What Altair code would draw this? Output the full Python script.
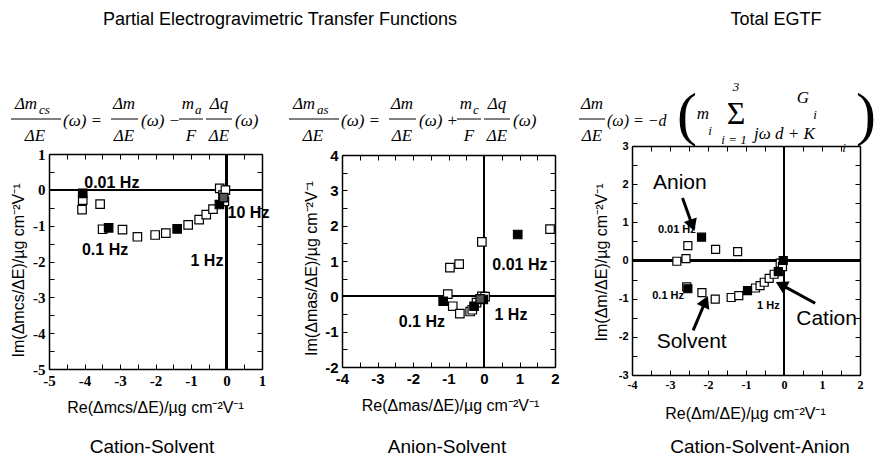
import altair as alt
import pandas as pd

W, H = 877, 464

# ---------------- data ----------------
# Cation-solvent partial EGTF
cs_re = [-4.05, -4.05, -4.07, -3.56, -3.49, -3.32, -2.93, -2.51, -2.01, -1.71,
         -1.39, -1.08, -0.77, -0.57, -0.38, -0.20, -0.19, -0.10, -0.08, -0.06, -0.03]
cs_im = [-0.10, -0.29, -0.55, -0.40, -1.10, -1.06, -1.11, -1.31, -1.26, -1.21,
         -1.09, -0.98, -0.83, -0.69, -0.54, -0.41, 0.04, -0.15, -0.22, -0.32, -0.01]
cs_kind = [1, 0, 0, 0, 0, 1, 0, 0, 0, 0, 1, 0, 0, 0, 0, 1, 0, 0, 2, 0, 0]

# Anion-solvent partial EGTF
as_re = [1.86, 0.95, -0.06, -0.70, -0.96, -1.02, -1.15, -0.88, -0.68, -0.39,
         -0.33, -0.28, -0.21, -0.11, -0.02, -0.06, 0.03]
as_im = [1.90, 1.75, 1.54, 0.91, 0.81, 0.06, -0.14, -0.28, -0.49, -0.43,
         -0.38, -0.28, -0.18, -0.07, -0.09, 0.00, -0.01]
as_kind = [0, 1, 0, 0, 0, 0, 1, 0, 0, 0, 0, 1, 0, 2, 1, 0, 0]

# Total EGTF
tot_re = [-2.17, -2.53, -1.80, -1.22, -2.58, -2.82, -2.56, -2.53, -2.16, -1.81, -1.39,
          -1.19, -0.96, -0.75, -0.63, -0.52, -0.39, -0.26, -0.15, -0.10, -0.04, -0.02]
tot_im = [0.61, 0.39, 0.29, 0.23, 0.05, -0.02, -0.69, -0.74, -0.84, -1.01, -0.97,
          -0.92, -0.79, -0.72, -0.66, -0.57, -0.47, -0.36, -0.29, -0.07, -0.16, 0.00]
tot_kind = [1, 0, 0, 0, 0, 0, 0, 1, 0, 0, 0, 0, 1, 0, 0, 0, 0, 0, 1, 0, 0, 1]

# frequency annotations
cs_note_txt = ["0.01 Hz", "0.1 Hz", "1 Hz", "10 Hz"]
cs_note_x = [-3.23, -3.42, -0.55, 0.62]
cs_note_y = [0.20, -1.69, -1.99, -0.64]

as_note_txt = ["0.01 Hz", "0.1 Hz", "1 Hz"]
as_note_x = [1.01, -1.75, 0.76]
as_note_y = [0.90, -0.73, -0.52]

tot_note_txt = ["0.01 Hz", "0.1 Hz", "1 Hz"]
tot_note_x = [-2.82, -3.05, -0.41]
tot_note_y = [0.80, -0.93, -1.19]

tot_name_txt = ["Anion", "Solvent", "Cation"]
tot_name_x = [-2.74, -2.43, 1.12]
tot_name_y = [2.03, -2.14, -1.52]

arrow_x = [-2.67, -2.39, 0.82]
arrow_y = [1.64, -1.83, -1.12]
arrow_x2 = [-2.43, -2.09, -0.03]
arrow_y2 = [0.97, -1.12, -0.66]
arrow_angle = [160, 24, 298]

FILL = {0: "white", 1: "black", 2: "#555555"}

INT_LABEL = "datum.value % 1 == 0 ? '' + datum.value : ''"


def axis_common(lab_font, lab_size):
    return dict(
        grid=False, domainColor="black", domainWidth=1.5, tickColor="black",
        tickWidth=1, tickSize=alt.ExprRef(expr="-5"), labelPadding=9,
        labelFont=lab_font, labelFontSize=lab_size, labelFontWeight="bold",
        labelColor="black", labelFlush=False, labelOverlap=False,
        labelExpr=INT_LABEL,
    )


def panel(re, im, kind, xdom, ydom, xr, yr, xlab, ylab, xtitle, ytitle,
          xt_x, yt_y, sq, notes, note_size):
    xs = alt.Scale(domain=xdom, range=xr, nice=False, zero=False)
    ys = alt.Scale(domain=ydom, range=yr, nice=False, zero=False)
    xticks = [xdom[0] + 0.5 * i for i in range(int(round((xdom[1] - xdom[0]) * 2)) + 1)]
    yticks = [ydom[0] + 0.5 * i for i in range(int(round((ydom[1] - ydom[0]) * 2)) + 1)]

    ax_b = alt.Axis(orient="bottom", offset=yr[0] - H, values=xticks,
                    title=xtitle, titleX=xt_x, titleY=38, titleFont="Liberation Sans",
                    titleFontSize=16, titleFontWeight="normal", titleColor="black",
                    titleBaseline="middle", titleAlign="center",
                    **axis_common(*xlab))
    ax_l = alt.Axis(orient="left", offset=-xr[0], values=yticks,
                    title=ytitle, titleX=-31, titleY=yt_y, titleAngle=270,
                    titleFont="Liberation Sans", titleFontSize=16,
                    titleFontWeight="normal", titleColor="black",
                    titleBaseline="middle", titleAlign="center",
                    **axis_common(*ylab))
    ax_t = alt.Axis(orient="top", offset=-yr[1], values=xticks, labels=False,
                    title=None, grid=False, domainColor="black", domainWidth=1.5,
                    tickColor="black", tickWidth=1, tickSize=alt.ExprRef(expr="-5"))
    ax_r = alt.Axis(orient="right", offset=xr[1] - W, values=yticks, labels=False,
                    title=None, grid=False, domainColor="black", domainWidth=1.5,
                    tickColor="black", tickWidth=1, tickSize=alt.ExprRef(expr="-5"))

    df = pd.DataFrame({"re": re, "im": im, "kind": kind})
    df["fill"] = df["kind"].map(FILL)
    df = df.sort_values("kind", kind="stable")

    hline = alt.Chart(df).mark_rule(color="black", strokeWidth=1.5).encode(
        x=alt.XDatum(xdom[0], type="quantitative", scale=xs, axis=None),
        x2=alt.X2Datum(xdom[1]),
        y=alt.YDatum(0, type="quantitative", scale=ys, axis=None),
    )
    vline = alt.Chart(df).mark_rule(color="black", strokeWidth=1.5).encode(
        y=alt.YDatum(ydom[0], type="quantitative", scale=ys, axis=None),
        y2=alt.Y2Datum(ydom[1]),
        x=alt.XDatum(0, type="quantitative", scale=xs, axis=None),
    )
    pts = alt.Chart(df).mark_point(shape="square", filled=True, size=sq,
                                   stroke="black", strokeWidth=1.2, opacity=1).encode(
        x=alt.X("re:Q", scale=xs, axis=ax_b),
        y=alt.Y("im:Q", scale=ys, axis=ax_l),
        fill=alt.Fill("fill:N", scale=None),
    )
    mirror = alt.Chart(df).mark_point(opacity=0).encode(
        x=alt.X("re:Q", scale=xs, axis=ax_t),
        y=alt.Y("im:Q", scale=ys, axis=ax_r),
    )
    ndf = pd.DataFrame({"x": notes[1], "y": notes[2], "t": notes[0]})
    ntext = alt.Chart(ndf).mark_text(font="Liberation Sans", fontWeight="bold",
                                     fontSize=note_size, color="black").encode(
        x=alt.X("x:Q", scale=xs, axis=None),
        y=alt.Y("y:Q", scale=ys, axis=None),
        text="t:N",
    )
    layers = [hline, vline, pts, mirror, ntext]
    return layers, xs, ys


p1, _, _ = panel(cs_re, cs_im, cs_kind, [-5, 1], [-5, 1], [49, 262], [369, 154],
                 ("Liberation Serif", 15), ("Liberation Serif", 15),
                 "Re(Δmcs/ΔE)/µg cm⁻²V⁻¹", "Im(Δmcs/ΔE)/µg cm⁻²V⁻¹",
                 155, 270, 72, (cs_note_txt, cs_note_x, cs_note_y), 16)
p2, _, _ = panel(as_re, as_im, as_kind, [-4, 2], [-2, 4], [342, 555], [367, 155],
                 ("Liberation Sans", 15), ("Liberation Sans", 15),
                 "Re(Δmas/ΔE)/µg cm⁻²V⁻¹", "Im(Δmas/ΔE)/µg cm⁻²V⁻¹",
                 450, 268, 72, (as_note_txt, as_note_x, as_note_y), 16)
p3, xs3, ys3 = panel(tot_re, tot_im, tot_kind, [-4, 2], [-3, 3], [632, 860], [375, 146],
                     ("Liberation Serif", 12), ("Liberation Sans", 11),
                     "Re(Δm/ΔE)/µg cm⁻²V⁻¹", "Im(Δm/ΔE)/µg cm⁻²V⁻¹",
                     745, 262, 64, (tot_note_txt, tot_note_x, tot_note_y), 11)

names_df = pd.DataFrame({"x": tot_name_x, "y": tot_name_y, "t": tot_name_txt})
names = alt.Chart(names_df).mark_text(font="Liberation Sans", fontSize=21,
                                      color="black").encode(
    x=alt.X("x:Q", scale=xs3, axis=None), y=alt.Y("y:Q", scale=ys3, axis=None), text="t:N")
arr_df = pd.DataFrame({"x": arrow_x, "y": arrow_y, "x2": arrow_x2, "y2": arrow_y2,
                       "a": arrow_angle})
arr_line = alt.Chart(arr_df).mark_rule(color="black", strokeWidth=3).encode(
    x=alt.X("x:Q", scale=xs3, axis=None), y=alt.Y("y:Q", scale=ys3, axis=None),
    x2="x2:Q", y2="y2:Q")
arr_head = alt.Chart(arr_df).mark_point(shape="triangle", filled=True, size=190,
                                        color="black", opacity=1).encode(
    x=alt.X("x2:Q", scale=xs3, axis=None), y=alt.Y("y2:Q", scale=ys3, axis=None),
    angle=alt.Angle("a:Q", scale=None))
p3 = p3 + [arr_line, arr_head, names]

panel1 = alt.layer(*p1).resolve_axis(x="independent", y="independent")
panel2 = alt.layer(*p2).resolve_axis(x="independent", y="independent")
panel3 = alt.layer(*p3).resolve_axis(x="independent", y="independent")

# ---------------- text: headings, captions, equations ----------------
head_txt = ["Partial Electrogravimetric Transfer Functions", "Total EGTF",
            "Cation-Solvent", "Anion-Solvent", "Cation-Solvent-Anion"]
head_df = pd.DataFrame({"t": head_txt, "px": [280, 776, 152, 447, 760],
                        "py": [20, 20, 447, 447, 447], "fs": [18, 18, 19, 19, 19]})
heads = alt.Chart(head_df).mark_text(font="Liberation Sans", color="black",
                                     baseline="middle").encode(
    x=alt.X("px:Q", scale=None, axis=None), y=alt.Y("py:Q", scale=None, axis=None),
    text="t:N", size=alt.Size("fs:Q", scale=None))

# equation glyph layout: (text, x, y, size, align)
eq = []
def frac_eq(x0, sub, sign, sub2):
    eq.extend([
        ("Δm", x0 + 15, 104, 17, "center"), (sub, x0 + 28, 110, 13, "left"),
        ("ΔE", x0 + 24, 136, 17, "center"),
        ("(ω) =", x0 + 52, 121, 17, "left"),
        ("Δm", x0 + 113, 104, 17, "center"), ("ΔE", x0 + 113, 136, 17, "center"),
        ("(ω) " + sign, x0 + 130, 121, 17, "left"),
        ("m", x0 + 177, 104, 17, "center"), (sub2, x0 + 184, 110, 13, "left"),
        ("F", x0 + 180, 136, 17, "center"),
        ("Δq", x0 + 208, 104, 17, "center"), ("ΔE", x0 + 208, 136, 17, "center"),
        ("(ω)", x0 + 224, 121, 17, "left"),
    ])

frac_eq(11, "cs", "−", "a")
frac_eq(289, "as", "+", "c")
eq.extend([
    ("Δm", 592, 104, 17, "center"), ("ΔE", 592, 136, 17, "center"),
    ("(ω) = −d", 607, 121, 16, "left"),
    ("m", 703, 114, 17, "center"), ("i", 710, 131, 13, "center"),
    ("3", 736, 87, 13, "center"), ("i = 1", 734, 140, 13, "center"),
    ("G", 803, 98, 17, "center"), ("i", 815, 115, 13, "center"),
    ("jω d + K", 754, 134, 17, "left"), ("i", 844, 148, 13, "center"),
])
eq_df = pd.DataFrame(eq, columns=["t", "px", "py", "fs", "al"])
eq_layers = []
for al in ["left", "center"]:
    sub = eq_df[eq_df["al"] == al]
    eq_layers.append(alt.Chart(sub).mark_text(font="Liberation Serif", fontStyle="italic",
                                              color="black", align=al, baseline="middle").encode(
        x=alt.X("px:Q", scale=None, axis=None), y=alt.Y("py:Q", scale=None, axis=None),
        text="t:N", size=alt.Size("fs:Q", scale=None)))

big_df = pd.DataFrame({"t": ["(", ")", "Σ"], "px": [687, 866, 736], "py": [116, 116, 114],
                       "fs": [60, 60, 32]})
bigs = alt.Chart(big_df).mark_text(font="Liberation Serif", color="black",
                                   baseline="middle", fontWeight="normal").encode(
    x=alt.X("px:Q", scale=None, axis=None), y=alt.Y("py:Q", scale=None, axis=None),
    text="t:N", size=alt.Size("fs:Q", scale=None))

bars = []
for x0 in [11, 289]:
    bars += [(x0, x0 + 50), (x0 + 100, x0 + 127), (x0 + 168, x0 + 192), (x0 + 195, x0 + 221)]
bars.append((579, 605))
bar_df = pd.DataFrame(bars, columns=["a", "b"])
bar_df["py"] = 119
bar_rules = alt.Chart(bar_df).mark_rule(color="black", strokeWidth=1).encode(
    x=alt.X("a:Q", scale=None, axis=None), x2="b:Q", y=alt.Y("py:Q", scale=None, axis=None))

chart = alt.layer(panel1, panel2, panel3, heads, bar_rules, bigs, *eq_layers).resolve_scale(
    x="independent", y="independent", size="independent", fill="independent"
).resolve_axis(x="independent", y="independent").properties(
    width=W, height=H, padding=0, autosize=alt.AutoSizeParams(type="none")
).configure_view(stroke=None)

chart.save("out.html", embed_options={"renderer": "svg", "actions": False})
